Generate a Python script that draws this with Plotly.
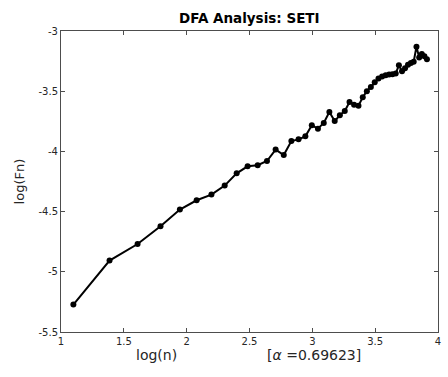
import numpy as np
import plotly.graph_objects as go

# window sizes n (x axis is log(n))
n_vals = [3, 4, 5, 6, 7, 8, 9, 10, 11, 12, 13, 14, 15, 16, 17, 18, 19, 20,
          21, 22, 23, 24, 25, 26, 27, 28, 29, 30, 31, 32, 33, 34, 35, 36,
          37, 38, 39, 40, 41, 42, 43, 44, 45, 46, 47, 48, 49, 50]
log_fn = [-5.272, -4.907, -4.769, -4.622, -4.483, -4.406, -4.359, -4.284,
          -4.182, -4.124, -4.115, -4.080, -3.985, -4.030, -3.914, -3.900,
          -3.875, -3.783, -3.811, -3.764, -3.673, -3.748, -3.700, -3.665,
          -3.590, -3.612, -3.620, -3.550, -3.500, -3.465, -3.425, -3.395,
          -3.378, -3.368, -3.362, -3.360, -3.352, -3.285, -3.335, -3.310,
          -3.280, -3.265, -3.255, -3.130, -3.220, -3.190, -3.210, -3.235]
x_ticks = [1, 1.5, 2, 2.5, 3, 3.5, 4]
x_tick_text = ["1", "1.5", "2", "2.5", "3", "3.5", "4"]
y_ticks = [-5.5, -5, -4.5, -4, -3.5, -3]
y_tick_text = ["-5.5", "-5", "-4.5", "-4", "-3.5", "-3"]
title_text = "DFA Analysis: SETI"
xlabel_text = "log(n)"
alpha_text = "[<i>α</i> =0.69623]"
ylabel_text = "log(Fn)"

log_n = np.log(np.array(n_vals, dtype=float))

FONT = "DejaVu Sans"
TXT = "#262626"
AX = "#4d4d4d"

fig = go.Figure()
fig.add_trace(go.Scatter(
    x=log_n, y=log_fn, mode="lines+markers",
    line=dict(color="black", width=2),
    marker=dict(color="black", size=6, symbol="circle"),
    showlegend=False, hoverinfo="skip",
))

axis_common = dict(
    showgrid=False, zeroline=False, showline=True, linecolor=AX, linewidth=1,
    mirror="ticks", ticks="inside", ticklen=4, tickwidth=1, tickcolor=AX,
    tickfont=dict(family=FONT, size=10, color=TXT),
)
fig.update_xaxes(range=[1, 4], tickvals=x_ticks, ticktext=x_tick_text, **axis_common)
fig.update_yaxes(range=[-5.5, -3], tickvals=y_ticks, ticktext=y_tick_text, **axis_common)

fig.update_layout(
    width=448, height=377,
    margin=dict(l=61, r=7, t=31, b=45, pad=0),
    plot_bgcolor="white", paper_bgcolor="white",
    font=dict(family=FONT, color=TXT),
    annotations=[
        dict(text="<b>" + title_text + "</b>", xref="paper", yref="paper",
             x=0.5, y=1.042, showarrow=False, xanchor="center", yanchor="middle",
             font=dict(family=FONT, size=13.5, color="black")),
        dict(text=xlabel_text, xref="paper", yref="paper",
             x=0.254, y=-0.043, showarrow=False, xanchor="center", yanchor="top",
             font=dict(family=FONT, size=14, color=TXT)),
        dict(text=alpha_text, xref="paper", yref="paper",
             x=0.671, y=-0.043, showarrow=False, xanchor="center", yanchor="top",
             font=dict(family=FONT, size=14, color=TXT)),
        dict(text=ylabel_text, xref="paper", yref="paper",
             x=-0.109, y=0.5, showarrow=False, xanchor="center", yanchor="middle",
             textangle=-90, font=dict(family=FONT, size=13, color=TXT)),
    ],
)

fig.write_html("out.html")
